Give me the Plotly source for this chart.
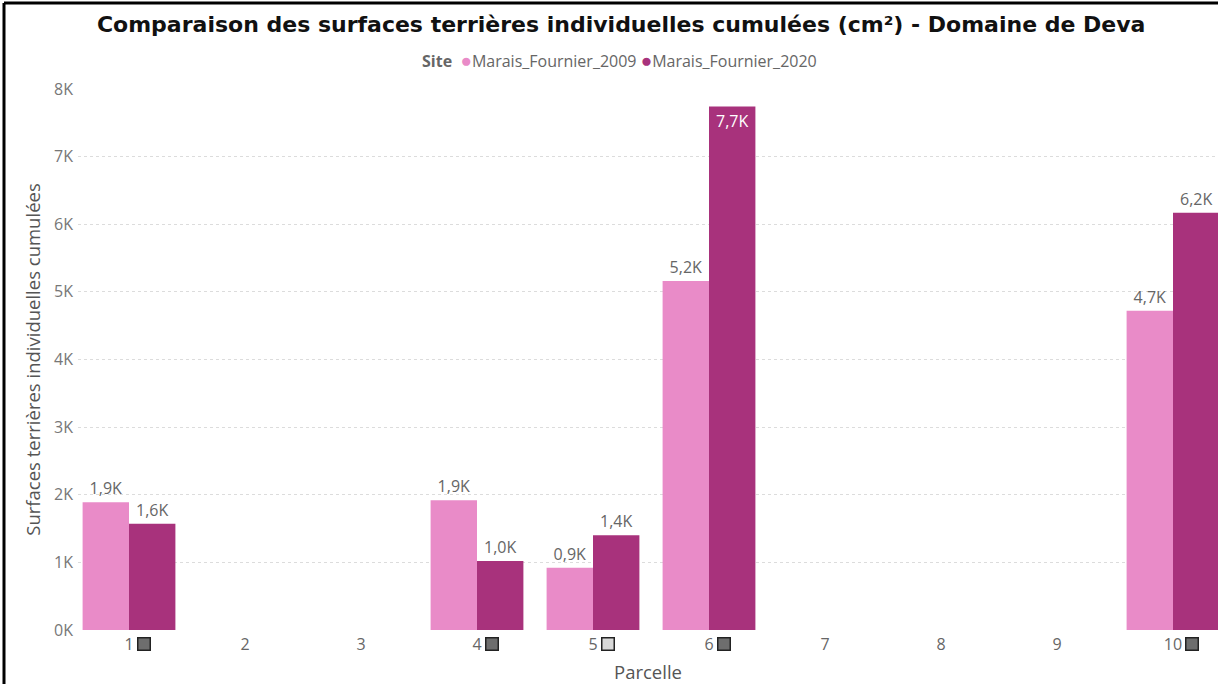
import plotly.graph_objects as go

# Surfaces terrières individuelles cumulées (cm²) par parcelle
parcelles = [1, 2, 3, 4, 5, 6, 7, 8, 9, 10]
surf_2009 = [1890, None, None, 1920, 920, 5160, None, None, None, 4720]
surf_2020 = [1570, None, None, 1020, 1400, 7740, None, None, None, 6170]
series_names = ["Marais_Fournier_2009", "Marais_Fournier_2020"]
y_ticks = [0, 1000, 2000, 3000, 4000, 5000, 6000, 7000, 8000]
y_ticklabels = ["0K", "1K", "2K", "3K", "4K", "5K", "6K", "7K", "8K"]
# Parcelles portant un marqueur carré à côté de l'étiquette (couleur du carré)
marked_parcelles = {1: "#6e6e6e", 4: "#6e6e6e", 5: "#d9d9d9", 6: "#6e6e6e", 10: "#6e6e6e"}

COLORS = ["#e98bc8", "#a8327c"]
Y_MAX = 8000
W, H = 1218, 684
M_L, M_R, M_T, M_B = 78, 0, 89, 54
FONT = "Open Sans, Noto Sans, sans-serif"
CAT_PX = 116  # largeur d'une catégorie en pixels


def fmt(v):
    return f"{v / 1000:.1f}K".replace(".", ",")


fig = go.Figure()
for name, vals, col in zip(series_names, [surf_2009, surf_2020], COLORS):
    texts = ["" if v is None else fmt(v) for v in vals]
    pos = ["inside" if (v is not None and v > 0.92 * Y_MAX) else "outside" for v in vals]
    fig.add_trace(go.Bar(
        x=parcelles, y=vals, name=name, marker=dict(color=col, line=dict(width=0)),
        text=texts, textposition=pos, insidetextanchor="end",
        outsidetextfont=dict(color="#666666", size=16, family=FONT),
        insidetextfont=dict(color="#ffffff", size=16, family=FONT),
        textangle=0, cliponaxis=False, showlegend=False,
    ))

# petits carrés à droite de certaines étiquettes de parcelle
for p, col in marked_parcelles.items():
    fig.add_annotation(
        x=p, xref="x", y=0, yref="paper", xanchor="left", yanchor="top",
        xshift=4 * len(str(p)) + 4, yshift=-7, text=" ", showarrow=False,
        width=11, height=11, borderpad=0, bgcolor=col,
        bordercolor="#222222", borderwidth=1.5,
    )

plot_w = W - M_L - M_R
plot_h = H - M_T - M_B

# légende « Site » en ligne
legend_parts = ["<b>Site</b>&nbsp;"]
for name, col in zip(series_names, COLORS):
    legend_parts.append(
        f"<span style='color:{col};font-size:19px'>●</span>{name}"
    )
fig.add_annotation(
    text="&nbsp;".join(legend_parts),
    x=(619 - M_L) / plot_w, xref="paper", y=1 + (M_T - 60) / plot_h, yref="paper",
    xanchor="center", yanchor="middle", showarrow=False,
    font=dict(color="#666666", size=16, family=FONT),
)

# cadre noir (bord gauche et bord haut)
fig.add_shape(type="line", xref="paper", yref="paper",
              x0=-(M_L - 4) / plot_w, x1=-(M_L - 4) / plot_w,
              y0=-M_B / plot_h, y1=1 + (M_T - 3) / plot_h,
              line=dict(color="#000000", width=3))
fig.add_shape(type="line", xref="paper", yref="paper",
              x0=-(M_L - 4) / plot_w, x1=1.0,
              y0=1 + (M_T - 3) / plot_h, y1=1 + (M_T - 3) / plot_h,
              line=dict(color="#000000", width=3))

x_lo = parcelles[0] - (129 - M_L) / CAT_PX
fig.update_layout(
    width=W, height=H,
    margin=dict(l=M_L, r=M_R, t=M_T, b=M_B),
    paper_bgcolor="white", plot_bgcolor="white",
    barmode="group", bargap=0.2, bargroupgap=0, showlegend=False,
    title=dict(
        text="<b>Comparaison des surfaces terrières individuelles cumulées (cm²) - Domaine de Deva</b>",
        x=0.51, xref="container", xanchor="center", y=0.965, yref="container", yanchor="middle",
        font=dict(family="DejaVu Sans, sans-serif", size=22, color="#111111"),
    ),
    xaxis=dict(
        range=[x_lo, x_lo + plot_w / CAT_PX], tickmode="array", tickvals=parcelles,
        ticktext=[str(p) for p in parcelles], showgrid=False, zeroline=False,
        showline=False, ticks="", ticklabelstandoff=3,
        tickfont=dict(color="#666666", size=16, family=FONT),
        title=dict(text="Parcelle", font=dict(color="#555555", size=18.5, family=FONT), standoff=13),
    ),
    yaxis=dict(
        range=[0, Y_MAX], tickmode="array", tickvals=y_ticks, ticktext=y_ticklabels,
        showgrid=True, gridcolor="#dcdcdc", griddash="dot", gridwidth=1,
        zeroline=False, showline=False, ticks="", ticklabelstandoff=4,
        tickfont=dict(color="#777777", size=16, family=FONT),
        title=dict(text="Surfaces terrières individuelles cumulées",
                   font=dict(color="#555555", size=18.5, family=FONT), standoff=8),
    ),
)

fig.write_html("out.html")
